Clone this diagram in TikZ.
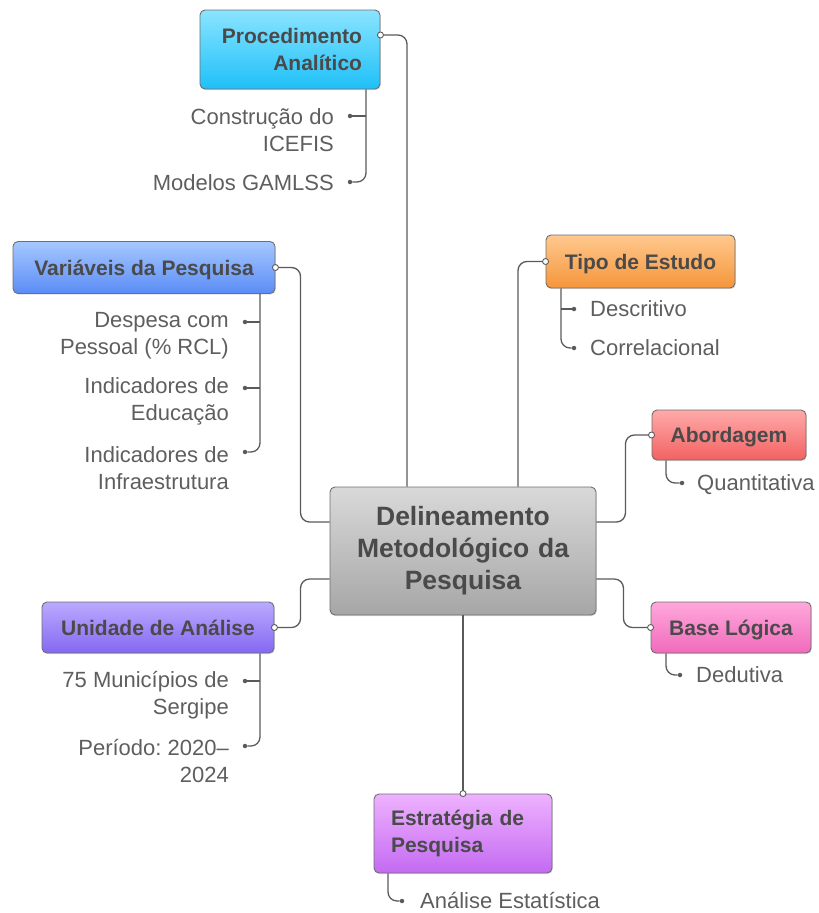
\documentclass[tikz,border=0pt]{standalone}
\usepackage{fontspec}
\setmainfont{Liberation Sans}
\frenchspacing
\usetikzlibrary{shadows}
\definecolor{bordc}{HTML}{6E6E6E}
\definecolor{connc}{HTML}{5A5A5A}
\definecolor{headc}{HTML}{4A4A4A}
\definecolor{leafc}{HTML}{5E5E5E}
\definecolor{paA}{HTML}{8AE4FF}\definecolor{paB}{HTML}{1EC0F8}
\definecolor{vaA}{HTML}{A6C8FF}\definecolor{vaB}{HTML}{5A8CF5}
\definecolor{teA}{HTML}{FFC98E}\definecolor{teB}{HTML}{F5953A}
\definecolor{abA}{HTML}{FFAAAA}\definecolor{abB}{HTML}{F26262}
\definecolor{blA}{HTML}{FFA8DC}\definecolor{blB}{HTML}{F06ABC}
\definecolor{unA}{HTML}{BAAAFF}\definecolor{unB}{HTML}{8468F2}
\definecolor{esA}{HTML}{EEB2FF}\definecolor{esB}{HTML}{C46AF2}
\definecolor{ceA}{HTML}{D9D9D9}\definecolor{ceB}{HTML}{A6A6A6}
\tikzset{
  box/.style={draw=bordc, line width=0.9pt, rounded corners=5pt, text=headc,
    font=\bfseries\fontsize{21}{27}\selectfont, inner sep=0pt,
    drop shadow={shadow xshift=0.8pt, shadow yshift=-1.2pt, opacity=0.25}},
  oneline/.style={text height=19.5pt, text depth=4.5pt},
  conn/.style={draw=connc, line width=1.3pt, rounded corners=9pt},
  port/.style={circle, draw=connc, fill=white, line width=0.9pt, inner sep=0pt, minimum size=6pt},
  dot/.style={circle, fill=connc, inner sep=0pt, minimum size=4.5pt},
  leaf/.style={text=leafc, font=\fontsize{22}{27}\selectfont, inner sep=0pt},
  leafone/.style={leaf, text height=20pt, text depth=4.5pt},
}
\begin{document}
\begin{tikzpicture}[x=1pt,y=-1pt]
\useasboundingbox (0,0) rectangle (819,913);
% main boxes
\node[box, top color=ceA, bottom color=ceB, minimum width=266pt, minimum height=128pt,
  text width=246pt, align=center, font=\bfseries\fontsize{26.5}{32}\selectfont] (cen) at (463,551)
  {Delineamento\\Metodológico da\\Pesquisa};
\node[box, top color=paA, bottom color=paB, minimum width=180pt, minimum height=79pt,
  text width=144pt, align=right] (pa) at (290,49.5) {Procedimento\\Analítico};
\node[box, oneline, top color=vaA, bottom color=vaB, minimum width=262pt, minimum height=52pt] (va) at (144,267.5) {Variáveis da Pesquisa};
\node[box, oneline, top color=teA, bottom color=teB, minimum width=189pt, minimum height=53pt] (te) at (640.5,261.5) {Tipo de Estudo};
\node[box, oneline, top color=abA, bottom color=abB, minimum width=154pt, minimum height=50pt] (ab) at (729,435) {Abordagem};
\node[box, oneline, top color=blA, bottom color=blB, minimum width=160pt, minimum height=51pt] (bl) at (731,627.5) {Base Lógica};
\node[box, oneline, top color=unA, bottom color=unB, minimum width=232pt, minimum height=51pt] (un) at (158,627.5) {Unidade de Análise};
\node[box, top color=esA, bottom color=esB, minimum width=178pt, minimum height=79pt,
  text width=144pt, align=left] (es) at (463,833.5) {Estratégia de\\Pesquisa};
% main connectors
\draw[conn] ([yshift=14.5pt]pa.east) -| ([xshift=-56pt]cen.north);
\draw[conn] ([xshift=55pt]cen.north) |- (te.west);
\draw[conn] (va.east) -| ([xshift=-29pt,yshift=29pt]cen.west) -- ([yshift=29pt]cen.west);
\draw[conn] (un.east) -| ([xshift=-29pt,yshift=-28pt]cen.west) -- ([yshift=-28pt]cen.west);
\draw[conn] ([yshift=29pt]cen.east) -- ++(29,0) |- (ab.west);
\draw[conn] ([yshift=-28pt]cen.east) -- ++(27,0) |- (bl.west);
\draw[conn] (cen.south) -- (es.north);
% ports
\node[port] (pap) at ([yshift=14.5pt]pa.east) {};
\node[port] (vap) at (va.east) {};
\node[port] (unp) at (un.east) {};
\node[port] (tep) at (te.west) {};
\node[port] (abp) at (ab.west) {};
\node[port] (blp) at (bl.west) {};
\node[port] (esp) at (es.north) {};
% Procedimento children
\coordinate (pab) at ([xshift=76pt]pa.south);
\node[dot] (d11) at (350,116) {};
\node[dot] (d12) at (350,182) {};
\node[leaf, anchor=east, align=right] (t11) at (334,130) {Construção do\\ICEFIS};
\node[leafone, anchor=east] (t12) at (334,183) {Modelos GAMLSS};
\draw[conn] (pab) |- (d12);
\draw[conn] (d11) -- (d11 -| pab);
% Variaveis children
\coordinate (vab) at ([xshift=116pt]va.south);
\node[dot] (d21) at (245,322) {};
\node[dot] (d22) at (245,388) {};
\node[dot] (d23) at (245,452) {};
\node[leaf, anchor=east, align=right] (t21) at (229,335.5) {Despesa com\\Pessoal (\% RCL)};
\node[leaf, anchor=east, align=right] (t22) at (229,401.5) {Indicadores de\\Educação};
\node[leaf, anchor=east, align=right] (t23) at (229,468) {Indicadores de\\Infraestrutura};
\draw[conn] (vab) |- (d23);
\draw[conn] (d21) -- (d21 -| vab);
\draw[conn] (d22) -- (d22 -| vab);
% Unidade children
\coordinate (unb) at ([xshift=102pt]un.south);
\node[dot] (d31) at (245,681) {};
\node[dot] (d32) at (245,746) {};
\node[leaf, anchor=east, align=right] (t31) at (229,695) {75 Municípios de\\Sergipe};
\node[leaf, anchor=east, align=right] (t32) at (229,760.5) {Período: 2020–\\2024};
\draw[conn] (unb) |- (d32);
\draw[conn] (d31) -- (d31 -| unb);
% Tipo children
\coordinate (teb) at ([xshift=-79.5pt]te.south);
\node[dot] (d41) at (574,309) {};
\node[dot] (d42) at (574,348) {};
\node[leafone, anchor=west] (t41) at (590,309) {Descritivo};
\node[leafone, anchor=west] (t42) at (590,348) {Correlacional};
\draw[conn] (teb) |- (d42);
\draw[conn] (d41) -- (d41 -| teb);
% Abordagem child
\coordinate (abb) at ([xshift=-63pt]ab.south);
\node[dot] (d51) at (682,483) {};
\node[leafone, anchor=west] (t51) at (697,483) {Quantitativa};
\draw[conn] (abb) |- (d51);
% Base child
\coordinate (blb) at ([xshift=-65pt]bl.south);
\node[dot] (d61) at (680,675) {};
\node[leafone, anchor=west] (t61) at (696,675) {Dedutiva};
\draw[conn] (blb) |- (d61);
% Estrategia child
\coordinate (esb) at ([xshift=-75pt]es.south);
\node[dot] (d71) at (402,901) {};
\node[leafone, anchor=west] (t71) at (420,901) {Análise Estatística};
\draw[conn] (esb) |- (d71);
\end{tikzpicture}
\end{document}
